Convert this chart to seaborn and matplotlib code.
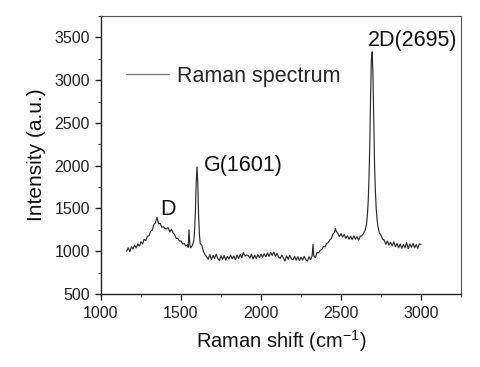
import numpy as np
import pandas as pd
import matplotlib
matplotlib.use("Agg")
import matplotlib.pyplot as plt
import seaborn as sns
from matplotlib.ticker import MultipleLocator

# Raman shift (cm-1) and intensity (a.u.)
shift = [
    1160, 1170, 1180, 1190, 1200, 1210, 1220, 1230, 1240, 1250,
    1260, 1270, 1280, 1290, 1300, 1310, 1320, 1330, 1340, 1350,
    1360, 1370, 1380, 1390, 1400, 1410, 1420, 1430, 1440, 1450,
    1460, 1470, 1480, 1490, 1500, 1510, 1520, 1530, 1540, 1545,
    1550, 1555, 1560, 1570, 1580, 1585, 1590, 1595, 1600, 1605,
    1610, 1615, 1620, 1630, 1640, 1650, 1660, 1670, 1680, 1690,
    1700, 1710, 1720, 1730, 1740, 1750, 1760, 1770, 1780, 1790,
    1800, 1810, 1820, 1830, 1840, 1850, 1860, 1870, 1880, 1890,
    1900, 1910, 1920, 1930, 1940, 1950, 1960, 1970, 1980, 1990,
    2000, 2010, 2020, 2030, 2040, 2050, 2060, 2070, 2080, 2090,
    2100, 2110, 2120, 2130, 2140, 2150, 2160, 2170, 2180, 2190,
    2200, 2210, 2220, 2230, 2240, 2250, 2260, 2270, 2280, 2290,
    2300, 2310, 2320, 2325, 2330, 2340, 2350, 2360, 2370, 2380,
    2390, 2400, 2410, 2420, 2430, 2440, 2450, 2460, 2465, 2470,
    2480, 2490, 2500, 2510, 2520, 2530, 2540, 2550, 2560, 2570,
    2580, 2590, 2600, 2610, 2620, 2630, 2640, 2650, 2660, 2665,
    2670, 2675, 2680, 2685, 2690, 2695, 2700, 2705, 2710, 2715,
    2720, 2725, 2730, 2740, 2750, 2760, 2770, 2780, 2790, 2800,
    2810, 2820, 2830, 2840, 2850, 2860, 2870, 2880, 2890, 2900,
    2910, 2920, 2930, 2940, 2950, 2960, 2970, 2980, 2990, 3000,
]
intensity = [
    1000, 1040, 995, 1050, 1025, 1070, 1040, 1085, 1060, 1110,
    1085, 1140, 1125, 1175, 1180, 1230, 1245, 1310, 1330, 1395,
    1320, 1325, 1280, 1285, 1265, 1260, 1275, 1225, 1255, 1215,
    1195, 1150, 1150, 1120, 1120, 1085, 1090, 1060, 1075, 1045,
    1250, 1080, 1040, 1065, 1120, 1250, 1450, 1800, 1985, 1800,
    1420, 1200, 1090, 1070, 1000, 960, 935, 905, 960, 900,
    950, 915, 965, 915, 890, 945, 905, 950, 895, 940,
    910, 955, 910, 945, 900, 955, 915, 960, 925, 985,
    945, 955, 950, 920, 965, 910, 955, 915, 960, 925,
    965, 930, 970, 935, 980, 940, 985, 950, 990, 940,
    975, 930, 915, 955, 920, 885, 945, 905, 950, 910,
    900, 940, 895, 935, 890, 930, 895, 940, 900, 885,
    935, 900, 950, 1080, 945, 925, 985, 980, 1010, 1020,
    1055, 1050, 1090, 1100, 1130, 1150, 1200, 1225, 1265, 1235,
    1210, 1170, 1205, 1165, 1195, 1150, 1180, 1140, 1175, 1135,
    1180, 1140, 1170, 1130, 1175, 1180, 1205, 1240, 1320, 1420,
    1580, 1850, 2250, 2800, 3250, 3330, 3050, 2500, 2000, 1700,
    1500, 1380, 1300, 1215, 1185, 1140, 1130, 1080, 1120, 1070,
    1105, 1060, 1110, 1050, 1090, 1040, 1085, 1035, 1080, 1040,
    1100, 1030, 1085, 1045, 1090, 1040, 1080, 1035, 1085, 1080,
]

peak_labels = ["D", "G(1601)", "2D(2695)"]
label_x = [1370, 1645, 2669]
label_y = [1420, 1940, 3400]

df = pd.DataFrame({"shift": shift, "intensity": intensity})

sns.set_style("ticks")
plt.rcParams["font.family"] = ["Liberation Sans", "DejaVu Sans"]
plt.rcParams["mathtext.fontset"] = "custom"
plt.rcParams["mathtext.rm"] = "Liberation Sans"
plt.rcParams["mathtext.default"] = "regular"

fig = plt.figure(figsize=(4.8, 3.67), dpi=100)
ax = fig.add_axes([0.2104, 0.199, 0.75, 0.7575])

sns.lineplot(data=df, x="shift", y="intensity", ax=ax, color="#2b2b2b",
             linewidth=0.85, label="Raman spectrum")

ax.set_xlim(1000, 3250)
ax.set_ylim(500, 3750)
ax.xaxis.set_major_locator(MultipleLocator(500))
ax.xaxis.set_minor_locator(MultipleLocator(250))
ax.yaxis.set_major_locator(MultipleLocator(500))
ax.yaxis.set_minor_locator(MultipleLocator(250))
ax.set_yticks([500, 1000, 1500, 2000, 2500, 3000, 3500])
ax.tick_params(which="major", length=4, width=1, labelsize=11.5,
               colors="#222222")
ax.tick_params(axis="y", which="major", pad=4)
ax.tick_params(axis="x", which="major", pad=5)
ax.tick_params(which="minor", length=2.5, width=0.8, colors="#444444")

for side in ["left", "bottom"]:
    ax.spines[side].set_color("#222222")
    ax.spines[side].set_linewidth(1.0)
for side in ["top", "right"]:
    ax.spines[side].set_visible(True)
    ax.spines[side].set_color("#555555")
    ax.spines[side].set_linewidth(0.8)

ax.set_xlabel("Raman shift (cm$^{-1}$)", fontsize=14.5, color="#111111",
              labelpad=5)
ax.set_ylabel("Intensity (a.u.)", fontsize=15, color="#111111",
              labelpad=6)

for txt, tx, ty in zip(peak_labels, label_x, label_y):
    ax.text(tx, ty, txt, fontsize=15.5, color="#111111",
            ha="left", va="baseline")

leg = ax.legend(loc="upper left", bbox_to_anchor=(0.015, 0.89),
                frameon=False, fontsize=15.5, handlelength=2.0,
                handletextpad=0.4)
for line in leg.get_lines():
    line.set_color("#777777")
    line.set_linewidth(0.9)

fig.savefig("out.png", dpi=100)
